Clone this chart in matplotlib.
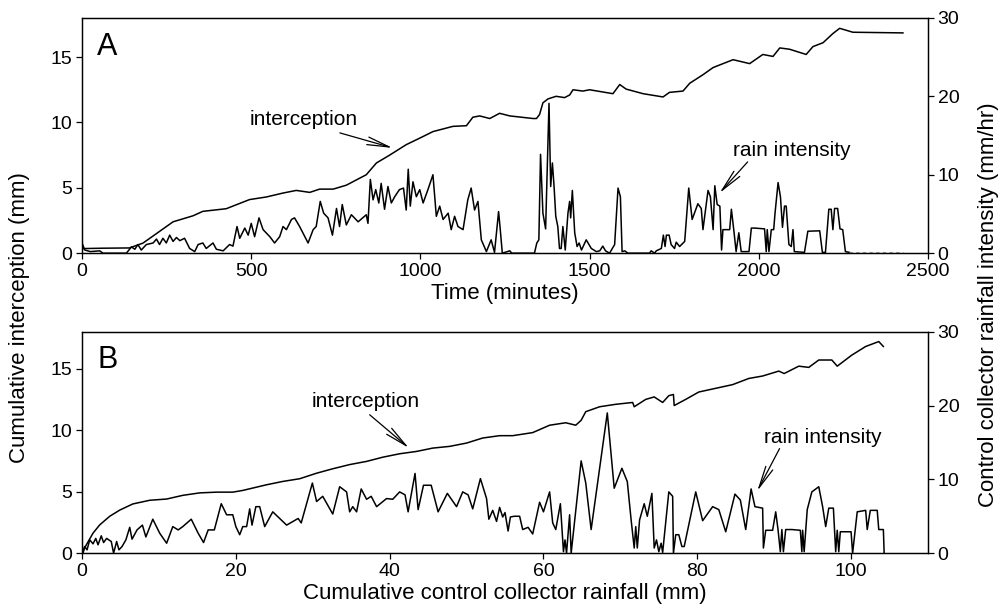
import matplotlib
matplotlib.use("Agg")
import matplotlib.pyplot as plt
import numpy as np

plt.rcParams['font.family'] = ['Liberation Sans', 'DejaVu Sans']

# ---- panel A: against time (minutes)
intA_t = [0, 60, 140, 180, 220, 269, 328, 357, 426, 495, 545, 594, 633, 673, 702, 742,
          781, 840, 870, 909, 958, 998, 1037, 1096, 1136, 1155, 1175, 1205, 1234, 1264,
          1333, 1343, 1352, 1362, 1377, 1401, 1426, 1441, 1451, 1480, 1500, 1569, 1579,
          1589, 1608, 1658, 1717, 1736, 1776, 1796, 1835, 1865, 1924, 1973, 2012, 2042,
          2062, 2091, 2140, 2160, 2190, 2219, 2239, 2278, 2426]
intA_v = [0.35, 0.38, 0.4, 0.77, 1.5, 2.4, 2.86, 3.2, 3.4, 4.1, 4.3, 4.6, 4.8, 4.65, 4.9, 4.9,
          5.2, 6.0, 6.9, 7.5, 8.3, 8.8, 9.3, 9.7, 9.75, 10.4, 10.5, 10.3, 10.7, 10.5,
          10.3, 10.3, 10.6, 11.5, 11.8, 12.0, 11.9, 12.1, 12.5, 12.4, 12.5, 12.2, 12.55,
          12.9, 12.55, 12.2, 11.95, 12.3, 12.4, 13.0, 13.65, 14.2, 14.8, 14.5, 15.2, 15.05,
          15.7, 15.6, 15.2, 15.8, 16.1, 16.8, 17.2, 16.9, 16.85]

rainA_t = [0, 8, 25, 52, 62, 131, 146, 156, 165, 175, 190, 210, 220, 229, 239, 249, 259, 269,
           279, 289, 303, 318, 333, 343, 357, 367, 387, 397, 417, 436, 446, 458, 466, 481,
           491, 500, 510, 523, 535, 555, 569, 584, 594, 604, 619, 628, 643, 668, 683, 692,
           704, 714, 727, 740, 752, 761, 769, 781, 796, 816, 840, 845, 852, 860, 868, 877,
           884, 894, 904, 914, 924, 938, 950, 958, 964, 970, 978, 988, 998, 1008, 1023,
           1037, 1047, 1057, 1067, 1082, 1091, 1101, 1111, 1126, 1140, 1150, 1160, 1170,
           1180, 1195, 1209, 1219, 1231, 1236, 1242, 1264, 1270, 1337, 1344, 1350, 1355,
           1362, 1370, 1380, 1385, 1390, 1395, 1400, 1406, 1411, 1416, 1421, 1428, 1436,
           1441, 1444, 1449, 1456, 1463, 1469, 1476, 1490, 1505, 1520, 1530, 1539, 1547,
           1559, 1574, 1584, 1591, 1596, 1604, 1613, 1677, 1682, 1692, 1697, 1712, 1718,
           1723, 1727, 1735, 1741, 1751, 1756, 1766, 1781, 1793, 1803, 1820, 1830, 1835,
           1850, 1857, 1865, 1870, 1877, 1885, 1890, 1894, 1914, 1919, 1926, 1933, 1941,
           1948, 1971, 1978, 1988, 2017, 2022, 2025, 2030, 2037, 2044, 2048, 2057, 2064,
           2070, 2076, 2081, 2089, 2096, 2101, 2105, 2135, 2145, 2180, 2188, 2197, 2207,
           2214, 2219, 2224, 2233, 2240, 2248, 2256, 2268]
rainA_v = [1.3, 0.4, 0.2, 0.3, 0, 0, 0.8, 0.5, 1.1, 0.4, 1.1, 1.3, 1.8, 1.1, 1.9, 1.3, 2.3, 1.5,
           2.0, 1.6, 1.9, 0.6, 0.2, 1.1, 1.3, 0.6, 1.3, 0.5, 0.3, 1.1, 0.9, 3.4, 1.9, 3.2,
           2.3, 3.8, 2.1, 4.5, 3.0, 2.1, 1.3, 2.1, 3.4, 3.0, 4.3, 4.5, 3.4, 1.3, 3.0, 3.4,
           6.6, 5.1, 4.5, 2.3, 5.7, 3.4, 6.2, 3.6, 4.9, 4.0, 4.9, 3.8, 9.4, 6.8, 8.1, 6.4,
           8.9, 5.6, 8.5, 6.4, 7.2, 8.1, 8.3, 5.5, 10.7, 6.0, 9.1, 7.2, 8.1, 6.4, 8.2,
           10.0, 4.7, 6.0, 4.3, 5.1, 3.0, 4.7, 3.4, 3.0, 6.8, 8.3, 5.5, 6.6,
           1.7, 0.2, 1.7, 0.1, 5.3, 3.0, 0, 0.3, 0, 0, 1.3, 1.7, 12.6,
           5.1, 3.1, 19.1, 8.5, 11.5, 8.5, 4.7, 3.4, 0.6, 0.6, 3.4, 0.4, 5.1,
           6.6, 4.5, 8.0, 2.6, 0.85, 1.3, 0.4, 1.7, 0.6, 0.2, 0.3, 0.9, 0.3,
           0, 1.1, 8.3, 7.2, 0.2, 0.3, 0, 0, 0.3, 0, 0.3, 0.6, 2.3,
           0.85, 2.3, 2.3, 1.1, 0.6, 1.4, 0.85, 1.5, 8.3, 4.3, 6.3, 5.7, 3.0,
           8.0, 7.2, 3.0, 8.6, 6.2, 6.0, 0.4, 3.0, 3.0, 5.6, 3.0, 0.2, 2.6,
           0.2, 0.2, 3.2, 3.2, 3.1, 0.2, 3.0, 0.2, 3.0, 3.0, 5.1, 9.0, 7.2,
           3.3, 6.0, 6.0, 1.1, 0.85, 3.0, 0.2, 0.1, 2.8, 2.85, 0.1, 0.1, 5.6,
           5.6, 3.0, 5.7, 5.7, 3.1, 3.0, 0.2, 0.1]
rainA_tail_t = [2268, 2426]
rainA_tail_v = [0.1, 0.1]

# ---- panel B: against cumulative control collector rainfall (mm)
intB_r = [0, 0.56, 1.43, 2.3, 3.6, 4.9, 6.6, 8.8, 11.0, 13.1, 15.3, 17.5, 19.6, 20.9, 24.0,
          26.1, 28.3, 30.5, 32.6, 34.8, 37.0, 39.1, 41.3, 43.5, 45.6, 47.8, 50.0, 52.1,
          54.3, 56.0, 58.6, 60.8, 62.9, 64.2, 64.9, 65.5, 67.3, 69.4, 71.6, 71.8, 73.3,
          74.4, 75.5, 76.3, 76.9, 77.0, 78.5, 80.2, 82.4, 84.6, 86.7, 88.5, 90.6, 91.3,
          93.2, 94.5, 95.8, 97.5, 98.2, 100.1, 101.9, 103.6, 104.2]
intB_v = [0, 0.68, 1.63, 2.3, 3.0, 3.5, 4.0, 4.3, 4.4, 4.7, 4.9, 4.96, 4.96, 5.1, 5.56,
          5.83, 6.05, 6.5, 6.86, 7.2, 7.46, 7.8, 8.08, 8.27, 8.54, 8.68, 8.95, 9.36,
          9.55, 9.55, 9.8, 10.4, 10.6, 10.4, 10.8, 11.5, 11.9, 12.1, 12.25, 11.9, 12.5,
          12.7, 12.25, 12.8, 12.9, 12.0, 12.5, 13.1, 13.4, 13.7, 14.2, 14.4, 14.8, 14.6,
          15.2, 15.1, 15.7, 15.7, 15.2, 16.1, 16.8, 17.2, 16.8]

rainB_r = [0, 0.13, 0.35, 0.65, 1.0, 1.43, 1.78, 2.08, 2.5, 2.8, 3.2, 3.8, 4.1, 4.5, 4.8,
           5.2, 5.7, 6.2, 6.5, 7.15, 7.85, 8.3, 9.2, 10.1, 11.0, 11.8, 12.5, 13.1, 14.2,
           15.1, 15.8, 16.4, 17.2, 18.1, 18.8, 19.6, 20.0, 20.5, 20.9, 21.4, 21.8, 22.1,
           22.6, 23.1, 23.75, 24.8, 26.6, 28.1, 28.5, 29.95, 30.5, 31.3, 32.6, 33.5,
           34.4, 34.8, 35.2, 35.7, 36.3, 37.0, 37.6, 38.3, 39.6, 40.4, 41.3, 42.0, 42.4,
           43.3, 43.7, 44.4, 45.4, 46.3, 47.5, 48.7, 49.5, 50.2, 50.8, 51.8, 52.6, 52.9,
           53.4, 53.9, 54.3, 54.7, 55.0, 55.4, 55.7, 56.2, 56.9, 57.3, 58.0, 58.6, 59.5,
           60.0, 60.8, 61.2, 61.6, 62.2, 62.6, 62.8, 63.0, 63.4, 63.6, 64.9, 65.5, 66.2,
           68.3, 69.2, 70.2, 70.9, 71.4, 71.8, 72.0, 72.2, 72.5, 73.1, 73.5, 74.1, 74.4,
           74.7, 75.0, 75.3, 75.5, 76.3, 76.8, 76.9, 77.2, 77.6, 78.0, 78.3, 79.8, 80.7,
           82.0, 82.8, 83.7, 84.9, 85.6, 86.3, 87.0, 87.5, 88.5, 88.6, 88.9, 89.8, 90.2,
           90.5, 90.8, 91.0, 91.2, 91.5, 92.3, 93.4, 93.6, 93.7, 93.9, 94.3, 94.9, 95.8,
           96.3, 96.7, 97.1, 97.7, 98.0, 98.2, 98.4, 98.6, 100.0, 100.2, 100.8, 101.9,
           102.1, 102.5, 103.4, 103.6, 104.2, 104.3]
rainB_v = [1.35, 0, 0.9, 0.45, 1.8, 1.26, 2.0, 1.13, 2.35, 1.44, 2.0, 1.58, 0, 1.58, 0.45,
           0.9, 1.8, 3.5, 1.9, 3.15, 3.8, 2.2, 4.6, 2.7, 1.35, 3.6, 3.15, 3.6, 4.6,
           2.7, 1.44, 3.15, 3.15, 6.7, 5.2, 5.2, 3.6, 2.5, 3.6, 3.6, 6.0, 3.8,
           6.3, 6.3, 3.6, 5.6, 3.8, 4.7, 4.1, 9.5, 7.0, 7.7, 5.3, 9.0,
           8.3, 5.6, 6.3, 5.6, 8.7, 7.3, 7.7, 6.3, 7.4, 7.3, 8.3, 7.9, 5.6,
           10.8, 5.9, 9.2, 9.2, 5.6, 8.1, 6.3, 8.3, 7.9, 6.0, 10.1, 7.4, 4.6,
           5.8, 4.3, 6.2, 4.9, 5.5, 3.0, 4.9, 5.0, 5.0, 3.2, 3.5, 2.6, 6.9,
           5.6, 8.3, 4.1, 3.2, 6.7, 0.2, 1.8, 0, 5.2, 0, 12.5, 9.5, 3.2,
           19.0, 8.8, 11.5, 9.7, 4.5, 0.7, 3.6, 0.7, 4.5, 6.7, 5.0, 8.1, 0.7,
           1.8, 0.2, 1.35, 0.1, 8.3, 7.7, 0, 2.5, 2.5, 0.9, 0.9, 8.3, 4.4,
           6.3, 5.9, 2.9, 8.0, 7.2, 3.2, 8.7, 6.3, 6.1, 0.7, 3.1, 3.1, 5.6,
           3.2, 0.2, 3.2, 0.2, 3.2, 3.2, 3.1, 0.2, 3.1, 0.2, 5.9, 8.3, 9.0,
           6.3, 3.6, 6.1, 6.1, 0.2, 3.1, 0.2, 2.9, 2.9, 0, 5.6, 5.8,
           3.2, 5.8, 5.8, 3.2, 3.2, 0]

fig = plt.figure(figsize=(10.03, 6.16), dpi=100)
axA = fig.add_axes([0.0818, 0.589, 0.8434, 0.382])
axB = fig.add_axes([0.0818, 0.102, 0.8434, 0.3595])

lw = 1.1
tick_kw = dict(direction='out', length=4, width=0.9, labelsize=14, pad=3)


def style(ax, ax2):
    for a in (ax, ax2):
        for s in a.spines.values():
            s.set_linewidth(0.9)
    ax.set_ylim(0, 18)
    ax.set_yticks([0, 5, 10, 15])
    ax2.set_ylim(0, 30)
    ax2.set_yticks([0, 10, 20, 30])
    ax.tick_params(**tick_kw)
    ax2.tick_params(**tick_kw)


# panel A
axA2 = axA.twinx()
axA.plot(intA_t, intA_v, color='black', lw=lw)
axA2.plot(rainA_t, rainA_v, color='black', lw=lw)
axA2.plot(rainA_tail_t, rainA_tail_v, color='0.55', lw=0.8, ls=(0, (3, 3)))
axA.set_xlim(0, 2500)
axA.set_xticks([0, 500, 1000, 1500, 2000, 2500])
style(axA, axA2)
axA.set_xlabel('Time (minutes)', fontsize=16, labelpad=2)
axA.text(0.018, 0.94, 'A', transform=axA.transAxes, fontsize=22, va='top', ha='left')

arrow = dict(arrowstyle='->,head_length=1.6,head_width=0.28', color='black', lw=0.9,
             shrinkA=0, shrinkB=0)
axA.annotate('', xy=(918, 8.05), xytext=(762, 9.2), arrowprops=arrow)
axA.text(656, 9.8, 'interception', fontsize=15, ha='center', va='baseline')
axA.annotate('', xy=(1884, 4.6), xytext=(1967, 6.98), arrowprops=arrow)
axA.text(2097, 7.4, 'rain intensity', fontsize=15, ha='center', va='baseline')

# panel B
axB2 = axB.twinx()
axB.plot(intB_r, intB_v, color='black', lw=lw)
axB2.plot(rainB_r, rainB_v, color='black', lw=lw)
axB.set_xlim(0, 110)
axB.set_xticks([0, 20, 40, 60, 80, 100])
style(axB, axB2)
axB.set_xlabel('Cumulative control collector rainfall (mm)', fontsize=16, labelpad=2)
axB.text(0.018, 0.94, 'B', transform=axB.transAxes, fontsize=22, va='top', ha='left')

axB.annotate('', xy=(42.5, 8.55), xytext=(37.4, 11.25), arrowprops=arrow)
axB.text(36.9, 11.9, 'interception', fontsize=15, ha='center', va='baseline')
axB.annotate('', xy=(87.8, 5.05), xytext=(90.7, 8.5), arrowprops=arrow)
axB.text(96.3, 8.96, 'rain intensity', fontsize=15, ha='center', va='baseline')

fig.text(0.019, 0.485, 'Cumulative interception (mm)', rotation=90, fontsize=16,
         ha='center', va='center')
fig.text(0.986, 0.505, 'Control collector rainfall intensity (mm/hr)', rotation=90,
         fontsize=16, ha='center', va='center')

fig.savefig('out.png', dpi=100)
